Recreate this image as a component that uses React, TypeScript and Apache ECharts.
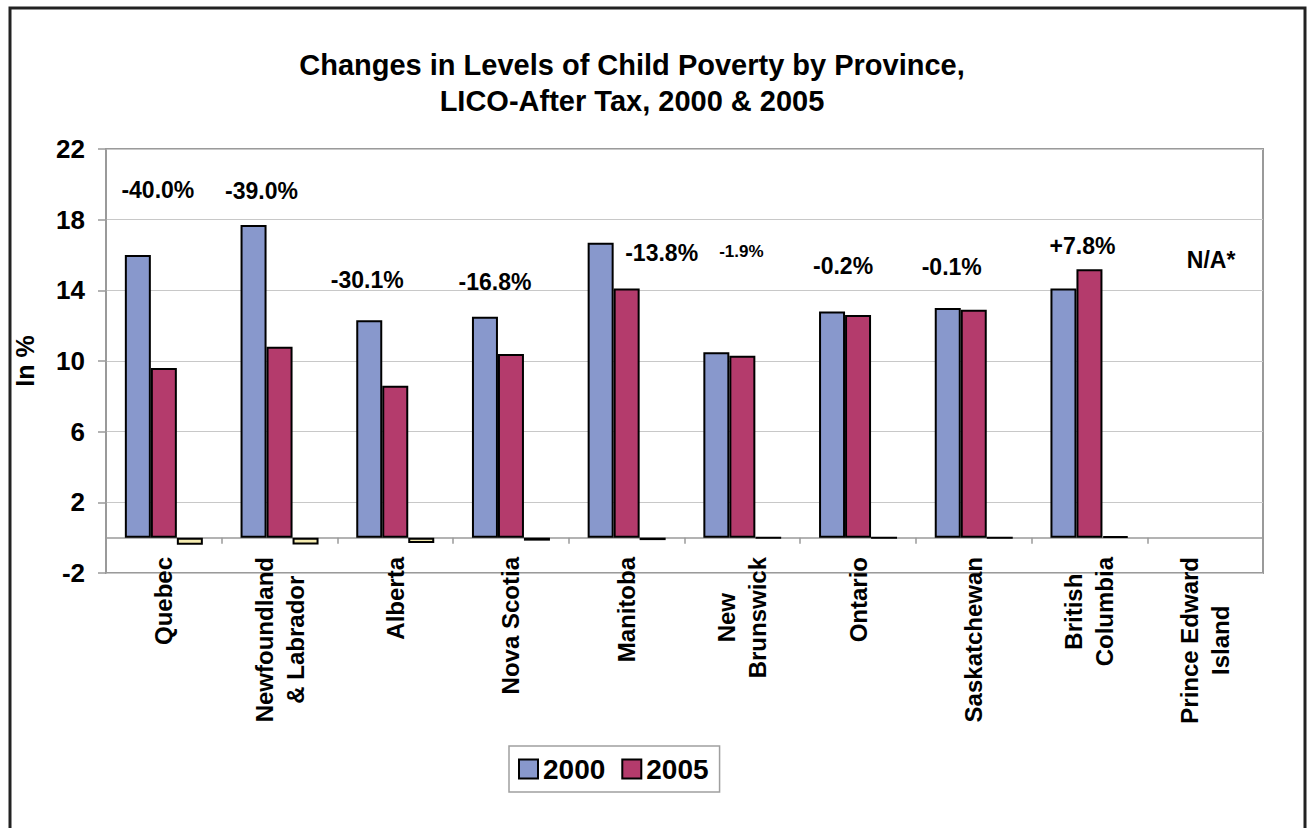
import React, { useEffect, useRef } from 'react';
import * as echarts from 'echarts';

// ---- data ----
const categories = [
  'Quebec',
  'Newfoundland\n& Labrador',
  'Alberta',
  'Nova Scotia',
  'Manitoba',
  'New\nBrunswick',
  'Ontario',
  'Saskatchewan',
  'British\nColumbia',
  'Prince Edward\nIsland',
];
const values2000 = [16.0, 17.7, 12.3, 12.5, 16.7, 10.5, 12.8, 13.0, 14.1, null];
const values2005 = [9.6, 10.8, 8.6, 10.4, 14.1, 10.3, 12.6, 12.9, 15.2, null];
const changeValues = [-0.4, -0.39, -0.301, -0.168, -0.138, -0.019, -0.002, -0.001, 0.078, null];
const changeLabels = ['-40.0%', '-39.0%', '-30.1%', '-16.8%', '-13.8%', '-1.9%', '-0.2%', '-0.1%', '+7.8%', 'N/A*'];
const yTicks = [-2, 2, 6, 10, 14, 18, 22];

// ---- annotation placement (layout only) ----
const annotY = [19.7, 19.6, 14.6, 14.5, 16.1, 16.2, 15.4, 15.3, 16.5, 15.7];
const annotDx = [-6, -18, -28, -16, 35, -1, -15, -22, -7, 6];
const annotSize = [23, 23, 23, 23, 23, 17, 23, 23, 23, 23];

const FONT = "'Liberation Sans', Arial, Helvetica, sans-serif";

export default function App() {
  const ref = useRef<HTMLDivElement>(null);

  useEffect(() => {
    if (!ref.current) return;
    const chart = echarts.init(ref.current, null, { renderer: 'svg' });
    const option: any = {
      animation: false,
      backgroundColor: '#ffffff',
      textStyle: { fontFamily: FONT },
      title: {
        text: 'Changes in Levels of Child Poverty by Province,\nLICO-After Tax, 2000 & 2005',
        left: 632,
        top: 47,
        textAlign: 'center',
        padding: 0,
        textStyle: { fontSize: 29, fontWeight: 'bold', lineHeight: 36, color: '#000', fontFamily: FONT },
      },
      legend: {
        data: ['2000', '2005'],
        left: 509,
        top: 746,
        orient: 'horizontal',
        padding: [8, 11, 8, 9],
        itemGap: 16,
        itemWidth: 19,
        itemHeight: 19,
        icon: 'rect',
        borderColor: '#a0a0a0',
        borderWidth: 1.5,
        itemStyle: { borderColor: '#000', borderWidth: 2 },
        textStyle: { fontSize: 28, fontWeight: 'bold', color: '#000', fontFamily: FONT, lineHeight: 30 },
      },
      grid: {
        left: 106,
        right: 44,
        top: 149,
        bottom: 255,
        show: true,
        borderColor: '#9a9a9a',
        borderWidth: 2,
        containLabel: false,
        outerBoundsMode: 'none',
      },
      xAxis: {
        type: 'category',
        data: categories,
        axisLine: { onZero: true, lineStyle: { color: '#9a9a9a', width: 1.5 } },
        axisTick: { show: true, alignWithLabel: false, interval: 0, length: 6, lineStyle: { color: '#9a9a9a', width: 1.5 } },
        axisLabel: {
          interval: 0,
          rotate: 90,
          margin: -16,
          color: '#000',
          fontSize: 24,
          fontWeight: 'bold',
          fontFamily: FONT,
          formatter: (v: string) => v.split('\n').map((l) => `{c|${l}}`).join('\n'),
          rich: {
            c: { align: 'center', fontSize: 24, fontWeight: 'bold', fontFamily: FONT, color: '#000', lineHeight: 31 },
          },
        },
        splitLine: { show: false },
      },
      yAxis: {
        type: 'value',
        min: -2,
        max: 22,
        name: 'In %',
        nameLocation: 'middle',
        nameGap: 69,
        nameRotate: 90,
        nameTextStyle: { fontSize: 25, fontWeight: 'bold', color: '#000', fontFamily: FONT },
        axisLine: { show: true, lineStyle: { color: '#9a9a9a', width: 1.5 } },
        axisTick: { show: true, length: 8, customValues: yTicks, lineStyle: { color: '#9a9a9a', width: 1.5 } },
        axisLabel: { customValues: yTicks, margin: 21, fontSize: 26, fontWeight: 'bold', color: '#000', fontFamily: FONT },
        splitLine: { show: true, lineStyle: { color: '#c8c8c8', width: 1 } },
      },
      series: [
        {
          name: '2000',
          type: 'bar',
          data: values2000,
          barWidth: 26,
          barGap: '0%',
          itemStyle: { color: '#8898CC', borderColor: '#000', borderWidth: 2 },
        },
        {
          name: '2005',
          type: 'bar',
          data: values2005,
          barWidth: 26,
          barGap: '0%',
          itemStyle: { color: '#B43B6C', borderColor: '#000', borderWidth: 2 },
        },
        {
          name: 'Change',
          type: 'bar',
          data: changeValues,
          barWidth: 26,
          barGap: '0%',
          itemStyle: { color: '#F6EDB2', borderColor: '#000', borderWidth: 2 },
        },
        {
          name: 'Change label',
          type: 'scatter',
          symbolSize: 0,
          silent: true,
          z: 10,
          itemStyle: { opacity: 1 },
          data: changeLabels.map((t, i) => ({
            value: [i, annotY[i]],
            label: {
              show: true,
              position: 'inside',
              formatter: t,
              offset: [annotDx[i], 0],
              fontSize: annotSize[i],
              fontWeight: 'bold',
              color: '#000',
              opacity: 1,
              textBorderWidth: 0,
              fontFamily: FONT,
            },
          })),
        },
      ],
      graphic: [
        {
          type: 'rect',
          silent: true,
          shape: { x: 10, y: 8, width: 1295, height: 840 },
          style: { fill: 'none', stroke: '#222', lineWidth: 3 },
        },
      ],
    };
    chart.setOption(option);
    return () => chart.dispose();
  }, []);

  return (
    <div
      ref={ref}
      style={{ position: 'fixed', left: 0, top: 0, width: 1307, height: 828, background: '#fff' }}
    />
  );
}
